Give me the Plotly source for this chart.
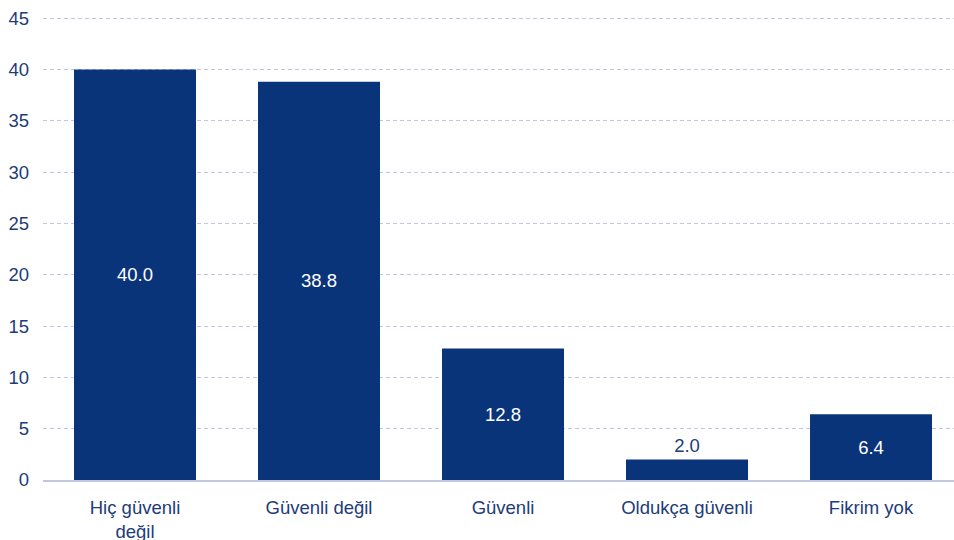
import plotly.graph_objects as go

categories = ["Hiç güvenli<br>değil", "Güvenli değil", "Güvenli", "Oldukça güvenli", "Fikrim yok"]
values = [40.0, 38.8, 12.8, 2.0, 6.4]
label_pos = ["inside", "inside", "inside", "outside", "inside"]
y_ticks = [0, 5, 10, 15, 20, 25, 30, 35, 40, 45]

navy = "#0a347a"
text_navy = "#1d3c78"
grid = "#c3c6e0"
fsize = 18.5

fig = go.Figure(go.Bar(
    x=categories, y=values,
    marker=dict(color=navy, line=dict(width=0)),
    width=0.663,
    text=[f"{v:.1f}" for v in values],
    textposition=label_pos,
    insidetextanchor="middle",
    insidetextfont=dict(color="white", size=fsize),
    outsidetextfont=dict(color=text_navy, size=fsize),
    cliponaxis=False,
    hoverinfo="skip",
))

fig.update_layout(
    width=954, height=540,
    margin=dict(l=43, r=0, t=15, b=60, autoexpand=False),
    paper_bgcolor="white", plot_bgcolor="white",
    font=dict(family="Liberation Sans, Arial, sans-serif", size=fsize, color=text_navy),
    showlegend=False,
)
fig.update_xaxes(
    range=[-0.5, 4.451], automargin=False,
    showgrid=False, showline=True, linecolor=grid, linewidth=2,
    ticks="", ticklabelstandoff=10, tickfont=dict(size=fsize, color=text_navy),
)
fig.update_yaxes(
    range=[0, 45.3], tickvals=y_ticks, automargin=False,
    showgrid=True, gridcolor=grid, griddash="4px,3px", gridwidth=1,
    zeroline=False, showline=False, ticks="", ticklabelstandoff=13,
    tickfont=dict(size=fsize, color=text_navy),
)

# drop the default body margin so the figure fills the window
fig.write_html(
    "out.html",
    config={"displayModeBar": False},
    post_script="document.body.style.margin='0';document.body.style.overflow='hidden';",
)
